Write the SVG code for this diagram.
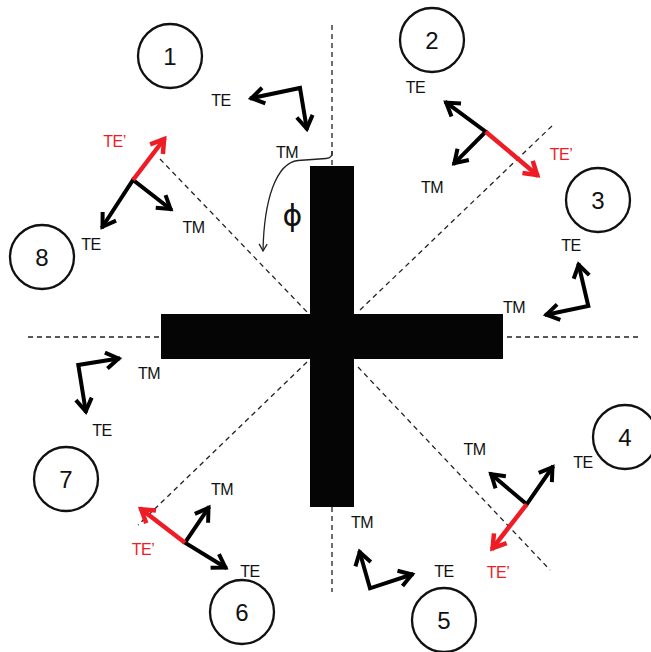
<svg xmlns="http://www.w3.org/2000/svg" width="651" height="652" viewBox="0 0 651 652">
<style>
.dash{stroke:#222;stroke-width:1.3;stroke-dasharray:5 4;fill:none}
.circ{fill:none;stroke:#111;stroke-width:2.3}
.num{font-family:"Liberation Sans",Arial,sans-serif;font-size:24px;fill:#111;text-anchor:middle}
.lbl{font-family:"Liberation Sans",Arial,sans-serif;font-size:16px;fill:#111;text-anchor:middle;letter-spacing:-0.5px}
.red{fill:#ee1c25}
.ba{fill:none;stroke:#000;stroke-width:4;stroke-linejoin:miter;marker-start:url(#hbs);marker-end:url(#hb)}
.ra{fill:none;stroke:#ee1c25;stroke-width:4.5;marker-end:url(#hr)}
</style>
<defs>
<marker id="hb" markerUnits="userSpaceOnUse" orient="auto" overflow="visible" markerWidth="1" markerHeight="1" refX="0" refY="0"><path d="M-14,-8 L-1.5,0 L-14,8" fill="none" stroke="#000" stroke-width="4"/></marker>
<marker id="hbs" markerUnits="userSpaceOnUse" orient="auto-start-reverse" overflow="visible" markerWidth="1" markerHeight="1" refX="0" refY="0"><path d="M-14,-8 L-1.5,0 L-14,8" fill="none" stroke="#000" stroke-width="4"/></marker>
<marker id="hr" markerUnits="userSpaceOnUse" orient="auto" overflow="visible" markerWidth="1" markerHeight="1" refX="0" refY="0"><path d="M-14,-8 L-1.5,0 L-14,8" fill="none" stroke="#ee1c25" stroke-width="4.5"/></marker>
<marker id="hs" markerUnits="userSpaceOnUse" orient="auto" overflow="visible" markerWidth="1" markerHeight="1"><path d="M-7,-4 L0,0 L-7,4" fill="none" stroke="#222" stroke-width="1.3"/></marker>
</defs>
<rect width="651" height="652" fill="#fff"/>
<g id="guides">
<line class="dash" x1="332" y1="25" x2="332" y2="166"/>
<line class="dash" x1="332" y1="507" x2="332" y2="592"/>
<line class="dash" x1="28" y1="337" x2="161" y2="337"/>
<line class="dash" x1="507" y1="337" x2="638" y2="337"/>
<line class="dash" x1="160" y1="159" x2="307" y2="312"/>
<line class="dash" x1="360" y1="310" x2="554" y2="124"/>
<line class="dash" x1="358" y1="367" x2="550" y2="570"/>
<line class="dash" x1="307" y1="362" x2="138" y2="525"/>
</g>
<g id="cross" fill="#050505">
<rect x="310" y="166" width="44" height="341"/>
<rect x="161" y="314" width="342" height="45"/>
</g>
<g id="angle">
<path d="M332,151 Q333,158 326,158.5 L298,160.5 C276,163 264,200 263,251" fill="none" stroke="#222" stroke-width="1.3" marker-end="url(#hs)"/>
<text x="292.5" y="226" font-family="DejaVu Sans,sans-serif" font-size="30" fill="#111" text-anchor="middle">ϕ</text>
</g>
<g id="pos1"><circle class="circ" cx="170" cy="56" r="32"/><text class="num" x="170" y="64.5">1</text></g>
<g id="pos2"><circle class="circ" cx="432" cy="40" r="32"/><text class="num" x="432" y="48.5">2</text></g>
<g id="pos3"><circle class="circ" cx="598" cy="200" r="32"/><text class="num" x="598" y="208.5">3</text></g>
<g id="pos4"><circle class="circ" cx="625" cy="437" r="32"/><text class="num" x="625" y="445.5">4</text></g>
<g id="pos5"><circle class="circ" cx="444" cy="620" r="32"/><text class="num" x="444" y="628.5">5</text></g>
<g id="pos6"><circle class="circ" cx="242" cy="612" r="32"/><text class="num" x="242" y="620.5">6</text></g>
<g id="pos7"><circle class="circ" cx="66" cy="479" r="32"/><text class="num" x="66" y="487.5">7</text></g>
<g id="pos8"><circle class="circ" cx="42" cy="257" r="32"/><text class="num" x="42" y="265.5">8</text></g>
<g id="connectors">
<path class="ba" d="M250,98.5 L300,88 L307,130"/>
<path class="ba" d="M101.7,228 L133,180 L171.7,210"/>
<path class="ra" d="M133,180 L165,138"/>
<path class="ba" d="M445,101.7 L485.7,131.7 L453.3,164.3"/>
<path class="ra" d="M485.7,131.7 L538.3,176"/>
<path class="ba" d="M578.3,263.3 L588.3,306 L545,315"/>
<path class="ba" d="M490,473.3 L526.7,504.3 L553.3,466"/>
<path class="ra" d="M526.7,504.3 L491.7,549.3"/>
<path class="ba" d="M359.3,550.7 L370,588.3 L413.3,574"/>
<path class="ba" d="M209.3,506.7 L185,542.7 L226.7,568.3"/>
<path class="ra" d="M185,542.7 L140,508.3"/>
<path class="ba" d="M120,358.3 L78.3,365 L86,412.7"/>
</g>
<g id="labels">
<text class="lbl" x="221" y="106">TE</text>
<text class="lbl" x="287" y="158">TM</text>
<text class="lbl red" x="114.5" y="147">TE’</text>
<text class="lbl" x="91" y="250">TE</text>
<text class="lbl" x="193.5" y="233">TM</text>
<text class="lbl" x="415.5" y="93">TE</text>
<text class="lbl" x="432" y="193">TM</text>
<text class="lbl red" x="561" y="160">TE’</text>
<text class="lbl" x="571" y="250.5">TE</text>
<text class="lbl" x="514" y="313">TM</text>
<text class="lbl" x="149" y="379">TM</text>
<text class="lbl" x="102" y="436">TE</text>
<text class="lbl" x="222" y="495">TM</text>
<text class="lbl red" x="143" y="555">TE’</text>
<text class="lbl" x="250" y="577">TE</text>
<text class="lbl" x="474.5" y="455">TM</text>
<text class="lbl" x="583" y="468">TE</text>
<text class="lbl red" x="498" y="578">TE’</text>
<text class="lbl" x="362" y="528">TM</text>
<text class="lbl" x="444" y="577">TE</text>
</g>
</svg>
